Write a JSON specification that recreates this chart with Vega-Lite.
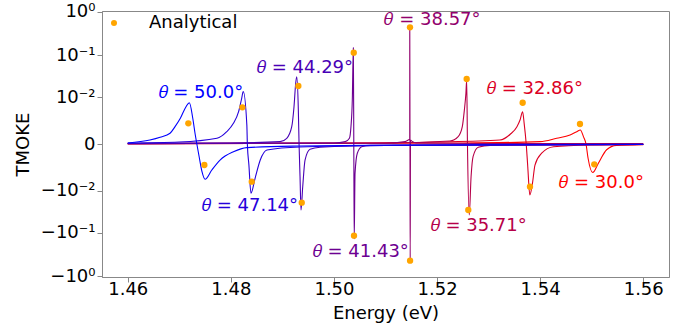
{
  "$schema": "https://vega.github.io/schema/vega-lite/v6.json",
  "width": 567,
  "height": 266,
  "autosize": {"type": "none"},
  "padding": {"left": 102, "top": 11, "right": 16, "bottom": 54},
  "background": "white",
  "config": {
    "font": "DejaVu Sans",
    "view": {"stroke": "#888888", "strokeWidth": 1},
    "axis": {
      "grid": false,
      "domainColor": "#888888",
      "tickColor": "#888888",
      "tickSize": 5,
      "labelFont": "DejaVu Sans",
      "labelFontSize": 18,
      "labelColor": "#000000",
      "titleFont": "DejaVu Sans",
      "titleFontSize": 18,
      "titleFontWeight": "normal",
      "titleColor": "#000000"
    }
  },
  "datasets": {
    "curves": [
      {"theta": "30.0", "E": 1.46, "TMOKE": 0.00002},
      {"theta": "30.0", "E": 1.50, "TMOKE": 0.00003},
      {"theta": "30.0", "E": 1.525, "TMOKE": 0.00005},
      {"theta": "30.0", "E": 1.540, "TMOKE": 0.00012},
      {"theta": "30.0", "E": 1.5432, "TMOKE": 0.00032},
      {"theta": "30.0", "E": 1.5458, "TMOKE": 0.00055},
      {"theta": "30.0", "E": 1.5471, "TMOKE": 0.00083},
      {"theta": "30.0", "E": 1.5478, "TMOKE": 0.00099},
      {"theta": "30.0", "E": 1.5484, "TMOKE": 0.00043},
      {"theta": "30.0", "E": 1.5489, "TMOKE": 0.0},
      {"theta": "30.0", "E": 1.5493, "TMOKE": -0.00102},
      {"theta": "30.0", "E": 1.5502, "TMOKE": -0.0032},
      {"theta": "30.0", "E": 1.5513, "TMOKE": -0.0016},
      {"theta": "30.0", "E": 1.5529, "TMOKE": -0.00032},
      {"theta": "30.0", "E": 1.5548, "TMOKE": -0.00007},
      {"theta": "30.0", "E": 1.56, "TMOKE": -0.00003},

      {"theta": "32.86", "E": 1.46, "TMOKE": 0.00002},
      {"theta": "32.86", "E": 1.50, "TMOKE": 0.00004},
      {"theta": "32.86", "E": 1.52, "TMOKE": 0.0001},
      {"theta": "32.86", "E": 1.5322, "TMOKE": 0.00021},
      {"theta": "32.86", "E": 1.5342, "TMOKE": 0.00061},
      {"theta": "32.86", "E": 1.5355, "TMOKE": 0.00136},
      {"theta": "32.86", "E": 1.5361, "TMOKE": 0.00232},
      {"theta": "32.86", "E": 1.5366, "TMOKE": 0.0041},
      {"theta": "32.86", "E": 1.5369, "TMOKE": 0.0018},
      {"theta": "32.86", "E": 1.5373, "TMOKE": 0.0},
      {"theta": "32.86", "E": 1.5376, "TMOKE": -0.0021},
      {"theta": "32.86", "E": 1.5380, "TMOKE": -0.0126},
      {"theta": "32.86", "E": 1.5385, "TMOKE": -0.0065},
      {"theta": "32.86", "E": 1.5390, "TMOKE": -0.00185},
      {"theta": "32.86", "E": 1.5403, "TMOKE": -0.00057},
      {"theta": "32.86", "E": 1.5426, "TMOKE": -0.00014},
      {"theta": "32.86", "E": 1.55, "TMOKE": -0.00005},
      {"theta": "32.86", "E": 1.56, "TMOKE": -0.00002},

      {"theta": "35.71", "E": 1.46, "TMOKE": 0.00002},
      {"theta": "35.71", "E": 1.51, "TMOKE": 0.00005},
      {"theta": "35.71", "E": 1.5225, "TMOKE": 0.000155},
      {"theta": "35.71", "E": 1.5241, "TMOKE": 0.00043},
      {"theta": "35.71", "E": 1.5249, "TMOKE": 0.00136},
      {"theta": "35.71", "E": 1.5253, "TMOKE": 0.00458},
      {"theta": "35.71", "E": 1.5256, "TMOKE": 0.0124},
      {"theta": "35.71", "E": 1.52575, "TMOKE": 0.026},
      {"theta": "35.71", "E": 1.5259, "TMOKE": 0.0},
      {"theta": "35.71", "E": 1.52625, "TMOKE": -0.0382},
      {"theta": "35.71", "E": 1.5266, "TMOKE": -0.00422},
      {"theta": "35.71", "E": 1.5270, "TMOKE": -0.00083},
      {"theta": "35.71", "E": 1.5280, "TMOKE": -0.00017},
      {"theta": "35.71", "E": 1.5303, "TMOKE": -0.00007},
      {"theta": "35.71", "E": 1.56, "TMOKE": -0.00002},

      {"theta": "38.57", "E": 1.46, "TMOKE": 0.00002},
      {"theta": "38.57", "E": 1.51, "TMOKE": 0.00004},
      {"theta": "38.57", "E": 1.5138, "TMOKE": 0.00012},
      {"theta": "38.57", "E": 1.5144, "TMOKE": 0.00021},
      {"theta": "38.57", "E": 1.5147, "TMOKE": 0.00027},
      {"theta": "38.57", "E": 1.51471, "TMOKE": 0.448},
      {"theta": "38.57", "E": 1.51475, "TMOKE": 0.0},
      {"theta": "38.57", "E": 1.51479, "TMOKE": -0.437},
      {"theta": "38.57", "E": 1.51485, "TMOKE": 0.00021},
      {"theta": "38.57", "E": 1.5151, "TMOKE": 0.00015},
      {"theta": "38.57", "E": 1.5160, "TMOKE": 0.00005},
      {"theta": "38.57", "E": 1.53, "TMOKE": 0.00002},
      {"theta": "38.57", "E": 1.56, "TMOKE": 0.00002},

      {"theta": "41.43", "E": 1.46, "TMOKE": 0.00002},
      {"theta": "41.43", "E": 1.50, "TMOKE": 0.00005},
      {"theta": "41.43", "E": 1.5022, "TMOKE": 0.00012},
      {"theta": "41.43", "E": 1.5030, "TMOKE": 0.00032},
      {"theta": "41.43", "E": 1.5033, "TMOKE": 0.00136},
      {"theta": "41.43", "E": 1.50356, "TMOKE": 0.0084},
      {"theta": "41.43", "E": 1.50376, "TMOKE": 0.1489},
      {"theta": "41.43", "E": 1.50385, "TMOKE": 0.0},
      {"theta": "41.43", "E": 1.50393, "TMOKE": -0.1389},
      {"theta": "41.43", "E": 1.50409, "TMOKE": -0.00338},
      {"theta": "41.43", "E": 1.50453, "TMOKE": -0.00057},
      {"theta": "41.43", "E": 1.50538, "TMOKE": -0.00014},
      {"theta": "41.43", "E": 1.5070, "TMOKE": -0.00007},
      {"theta": "41.43", "E": 1.53, "TMOKE": -0.00003},
      {"theta": "41.43", "E": 1.56, "TMOKE": -0.00002},

      {"theta": "44.29", "E": 1.46, "TMOKE": 0.00003},
      {"theta": "44.29", "E": 1.48, "TMOKE": 0.00005},
      {"theta": "44.29", "E": 1.48954, "TMOKE": 0.00012},
      {"theta": "44.29", "E": 1.49084, "TMOKE": 0.00032},
      {"theta": "44.29", "E": 1.49181, "TMOKE": 0.00136},
      {"theta": "44.29", "E": 1.49225, "TMOKE": 0.00563},
      {"theta": "44.29", "E": 1.49258, "TMOKE": 0.0218},
      {"theta": "44.29", "E": 1.49278, "TMOKE": 0.0312},
      {"theta": "44.29", "E": 1.49309, "TMOKE": 0.00458},
      {"theta": "44.29", "E": 1.49323, "TMOKE": 0.0},
      {"theta": "44.29", "E": 1.49342, "TMOKE": -0.00422},
      {"theta": "44.29", "E": 1.49361, "TMOKE": -0.0291},
      {"theta": "44.29", "E": 1.49394, "TMOKE": -0.0078},
      {"theta": "44.29", "E": 1.49439, "TMOKE": -0.00121},
      {"theta": "44.29", "E": 1.49536, "TMOKE": -0.00029},
      {"theta": "44.29", "E": 1.4973, "TMOKE": -0.00017},
      {"theta": "44.29", "E": 1.51, "TMOKE": -0.000075},
      {"theta": "44.29", "E": 1.56, "TMOKE": -0.00002},

      {"theta": "47.14", "E": 1.46, "TMOKE": 0.00005},
      {"theta": "47.14", "E": 1.470, "TMOKE": 0.0001},
      {"theta": "47.14", "E": 1.4773, "TMOKE": 0.00032},
      {"theta": "47.14", "E": 1.4792, "TMOKE": 0.00083},
      {"theta": "47.14", "E": 1.4805, "TMOKE": 0.0018},
      {"theta": "47.14", "E": 1.4815, "TMOKE": 0.0041},
      {"theta": "47.14", "E": 1.4821, "TMOKE": 0.0093},
      {"theta": "47.14", "E": 1.4824, "TMOKE": 0.0137},
      {"theta": "47.14", "E": 1.4831, "TMOKE": 0.00157},
      {"theta": "47.14", "E": 1.4832, "TMOKE": 0.0},
      {"theta": "47.14", "E": 1.4835, "TMOKE": -0.00185},
      {"theta": "47.14", "E": 1.4839, "TMOKE": -0.0114},
      {"theta": "47.14", "E": 1.4847, "TMOKE": -0.00466},
      {"theta": "47.14", "E": 1.4857, "TMOKE": -0.00121},
      {"theta": "47.14", "E": 1.4870, "TMOKE": -0.00034},
      {"theta": "47.14", "E": 1.4934, "TMOKE": -0.000155},
      {"theta": "47.14", "E": 1.51, "TMOKE": -0.000075},
      {"theta": "47.14", "E": 1.56, "TMOKE": -0.000024},

      {"theta": "50.0", "E": 1.46, "TMOKE": 0.00005},
      {"theta": "50.0", "E": 1.4643, "TMOKE": 0.00021},
      {"theta": "50.0", "E": 1.46627, "TMOKE": 0.000385},
      {"theta": "50.0", "E": 1.4682, "TMOKE": 0.00069},
      {"theta": "50.0", "E": 1.46917, "TMOKE": 0.00136},
      {"theta": "50.0", "E": 1.4702, "TMOKE": 0.00262},
      {"theta": "50.0", "E": 1.4713, "TMOKE": 0.00563},
      {"theta": "50.0", "E": 1.47195, "TMOKE": 0.00716},
      {"theta": "50.0", "E": 1.4726, "TMOKE": 0.00268},
      {"theta": "50.0", "E": 1.4731, "TMOKE": 0.00055},
      {"theta": "50.0", "E": 1.4734, "TMOKE": 0.0},
      {"theta": "50.0", "E": 1.4739, "TMOKE": -0.00102},
      {"theta": "50.0", "E": 1.4744, "TMOKE": -0.00302},
      {"theta": "50.0", "E": 1.4750, "TMOKE": -0.00497},
      {"theta": "50.0", "E": 1.4763, "TMOKE": -0.00268},
      {"theta": "50.0", "E": 1.4779, "TMOKE": -0.00121},
      {"theta": "50.0", "E": 1.4805, "TMOKE": -0.00046},
      {"theta": "50.0", "E": 1.4831, "TMOKE": -0.00019},
      {"theta": "50.0", "E": 1.4934, "TMOKE": -0.0001},
      {"theta": "50.0", "E": 1.5128, "TMOKE": -0.00005},
      {"theta": "50.0", "E": 1.56, "TMOKE": -0.000024}
    ],
    "analytical": [
      {"series": "Analytical", "E": 1.47175, "TMOKE": 0.0018},
      {"series": "Analytical", "E": 1.47486, "TMOKE": -0.00185},
      {"series": "Analytical", "E": 1.48223, "TMOKE": 0.00542},
      {"series": "Analytical", "E": 1.48405, "TMOKE": -0.00576},
      {"series": "Analytical", "E": 1.49309, "TMOKE": 0.0187},
      {"series": "Analytical", "E": 1.49375, "TMOKE": -0.0194},
      {"series": "Analytical", "E": 1.50384, "TMOKE": 0.114},
      {"series": "Analytical", "E": 1.50389, "TMOKE": -0.1164},
      {"series": "Analytical", "E": 1.51475, "TMOKE": 0.44},
      {"series": "Analytical", "E": 1.51477, "TMOKE": -0.44},
      {"series": "Analytical", "E": 1.52575, "TMOKE": 0.0275},
      {"series": "Analytical", "E": 1.52606, "TMOKE": -0.0291},
      {"series": "Analytical", "E": 1.53661, "TMOKE": 0.00716},
      {"series": "Analytical", "E": 1.53803, "TMOKE": -0.0078},
      {"series": "Analytical", "E": 1.54773, "TMOKE": 0.0017},
      {"series": "Analytical", "E": 1.5505, "TMOKE": -0.00175}
    ],
    "labels": [
      {"theta": "50.0", "E": 1.47418, "TMOKE": 0.01225, "label": "𝜃 = 50.0°"},
      {"theta": "47.14", "E": 1.48372, "TMOKE": -0.0229, "label": "𝜃 = 47.14°"},
      {"theta": "44.29", "E": 1.49439, "TMOKE": 0.0492, "label": "𝜃 = 44.29°"},
      {"theta": "41.43", "E": 1.50521, "TMOKE": -0.274, "label": "𝜃 = 41.43°"},
      {"theta": "38.57", "E": 1.51912, "TMOKE": 0.651, "label": "𝜃 = 38.57°"},
      {"theta": "35.71", "E": 1.52808, "TMOKE": -0.0692, "label": "𝜃 = 35.71°"},
      {"theta": "32.86", "E": 1.5390, "TMOKE": 0.01553, "label": "𝜃 = 32.86°"},
      {"theta": "30.0", "E": 1.55193, "TMOKE": -0.00635, "label": "𝜃 = 30.0°"}
    ]
  },
  "encoding": {
    "x": {
      "field": "E",
      "type": "quantitative",
      "scale": {"domain": [1.455, 1.565], "nice": false, "zero": false},
      "axis": {
        "values": [1.46, 1.48, 1.5, 1.52, 1.54, 1.56],
        "format": ".2f",
        "title": "Energy (eV)",
        "labelPadding": -2,
        "titlePadding": 6
      }
    },
    "y": {
      "field": "TMOKE",
      "type": "quantitative",
      "scale": {"type": "symlog", "constant": 0.0009, "domain": [-1.05, 1.05], "nice": false, "zero": false},
      "axis": {
        "values": [-1, -0.1, -0.01, 0, 0.01, 0.1, 1],
        "labelExpr": "datum.value >= 0.5 ? '10⁰' : datum.value >= 0.05 ? '10⁻¹' : datum.value >= 0.005 ? '10⁻²' : datum.value > -0.005 ? '0' : datum.value > -0.05 ? '−10⁻²' : datum.value > -0.5 ? '−10⁻¹' : '−10⁰'",
        "title": "TMOKE",
        "labelPadding": 2,
        "titlePadding": 8
      }
    }
  },
  "layer": [
    {
      "data": {"name": "curves"},
      "mark": {"type": "line", "strokeWidth": 1.1, "interpolate": "monotone"},
      "encoding": {
        "color": {
          "field": "theta",
          "type": "nominal",
          "scale": {
            "domain": ["50.0", "47.14", "44.29", "41.43", "38.57", "35.71", "32.86", "30.0"],
            "range": ["#0000ff", "#2400db", "#4900b6", "#6d0092", "#92006d", "#b60049", "#db0024", "#ff0000"]
          },
          "legend": null
        }
      }
    },
    {
      "data": {"name": "labels"},
      "mark": {"type": "text", "fontSize": 18, "font": "DejaVu Sans", "align": "center", "baseline": "middle"},
      "encoding": {
        "text": {"field": "label"},
        "color": {
          "field": "theta",
          "type": "nominal",
          "scale": {
            "domain": ["50.0", "47.14", "44.29", "41.43", "38.57", "35.71", "32.86", "30.0"],
            "range": ["#0000ff", "#2400db", "#4900b6", "#6d0092", "#92006d", "#b60049", "#db0024", "#ff0000"]
          },
          "legend": null
        }
      }
    },
    {
      "data": {"name": "analytical"},
      "mark": {"type": "point", "filled": true, "size": 40, "opacity": 1, "shape": "circle"},
      "encoding": {
        "fill": {
          "field": "series",
          "type": "nominal",
          "scale": {"domain": ["Analytical"], "range": ["#ffa500"]},
          "legend": {
            "orient": "none",
            "legendX": 3,
            "legendY": 3,
            "title": null,
            "padding": 0,
            "labelFontSize": 18,
            "labelFont": "DejaVu Sans",
            "labelColor": "#000000",
            "symbolType": "circle",
            "symbolSize": 36,
            "symbolStrokeWidth": 0,
            "labelOffset": 26
          }
        }
      }
    }
  ],
  "resolve": {"scale": {"color": "independent", "fill": "independent"}}
}
